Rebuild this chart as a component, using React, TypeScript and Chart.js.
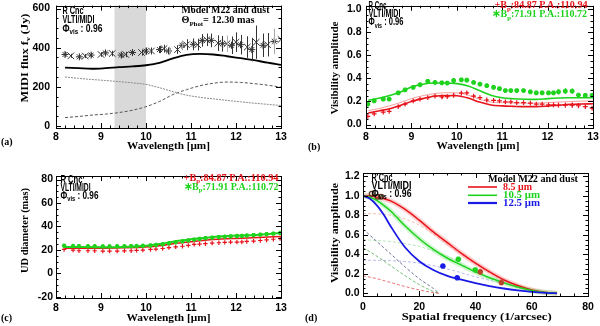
import React, { useEffect, useRef } from 'react';
import { Chart, registerables } from 'chart.js';
Chart.register(...registerables);

// ---------------- Panel (a): MIDI flux ----------------
const lamA = [8.2, 8.33, 8.52, 8.65, 8.78, 9.0, 9.1, 9.25, 9.45, 9.55, 9.7, 9.9, 10.0, 10.12, 10.3, 10.4, 10.5, 10.7, 10.8, 10.9, 11.05, 11.15, 11.25, 11.35, 11.45, 11.6, 11.7, 11.8, 11.9, 12.0, 12.1, 12.25, 12.35, 12.45, 12.6, 12.7, 12.85, 13.0];
const fluxA = [365, 358, 353, 357, 362, 365, 373, 370, 362, 365, 375, 375, 382, 383, 390, 395, 383, 390, 412, 415, 417, 415, 437, 440, 437, 423, 420, 420, 412, 428, 415, 403, 390, 428, 412, 415, 432, 442];
const fluxErrA = [12, 10, 10, 10, 12, 12, 14, 14, 14, 14, 14, 16, 18, 18, 18, 20, 22, 22, 25, 28, 30, 30, 32, 32, 35, 40, 40, 42, 45, 50, 50, 55, 60, 85, 60, 60, 65, 70];
const fluxErrGrayA = [0, 0, 0, 0, 0, 0, 0, 0, 0, 0, 0, 0, 0, 0, 0, 0, 1, 0, 1, 0, 0, 0, 0, 0, 0, 0, 0, 1, 0, 0, 0, 0, 0, 0, 0, 0, 1, 0];
const lamModelA = [8.2, 8.5, 8.8, 9.1, 9.4, 9.7, 10.0, 10.3, 10.6, 10.9, 11.2, 11.5, 11.8, 12.1, 12.4, 12.7, 13.0];
const modelTotalA = [298, 295, 292, 295, 300, 304, 310, 322, 345, 363, 368, 365, 356, 346, 336, 323, 312];
const modelStarA = [250, 243, 237, 232, 226, 220, 212, 195, 175, 157, 146, 138, 130, 123, 116, 110, 104];
const modelDustA = [42, 48, 55, 60, 68, 80, 98, 125, 160, 185, 205, 218, 224, 222, 216, 208, 198];
const shadeA = [9.3, 10.0];
const xTicksA = [8, 9, 10, 11, 12, 13];
const yTicksA = [0, 200, 400, 600];

// ---------------- Panel (b): visibilities vs wavelength ----------------
const lamB = [8.04, 8.18, 8.38, 8.51, 8.71, 8.86, 9.04, 9.19, 9.36, 9.52, 9.67, 9.79, 9.93, 10.1, 10.22, 10.37, 10.51, 10.66, 10.81, 10.94, 11.07, 11.19, 11.32, 11.47, 11.62, 11.75, 11.88, 12.02, 12.13, 12.24, 12.39, 12.54, 12.68, 12.83, 12.98];
const visGreenB = [0.177, 0.205, 0.22, 0.22, 0.275, 0.30, 0.323, 0.345, 0.374, 0.365, 0.362, 0.36, 0.382, 0.388, 0.385, 0.365, 0.35, 0.337, 0.323, 0.312, 0.295, 0.295, 0.295, 0.295, 0.284, 0.275, 0.275, 0.275, 0.275, 0.284, 0.29, 0.29, 0.256, 0.253, 0.253];
const visGreenErrB = [0.006, 0.006, 0.006, 0.006, 0.006, 0.006, 0.006, 0.006, 0.006, 0.02, 0.006, 0.006, 0.02, 0.015, 0.006, 0.006, 0.006, 0.006, 0.006, 0.006, 0.006, 0.006, 0.006, 0.006, 0.006, 0.006, 0.006, 0.006, 0.006, 0.022, 0.025, 0.022, 0.006, 0.006, 0.006];
const visRedB = [0.07, 0.093, 0.107, 0.115, 0.155, 0.177, 0.205, 0.22, 0.233, 0.247, 0.24, 0.242, 0.253, 0.272, 0.275, 0.247, 0.233, 0.213, 0.21, 0.205, 0.197, 0.197, 0.19, 0.19, 0.185, 0.177, 0.177, 0.171, 0.171, 0.169, 0.169, 0.169, 0.163, 0.155, 0.143];
const visRedErrB = [0.005, 0.005, 0.005, 0.005, 0.005, 0.005, 0.005, 0.005, 0.005, 0.005, 0.015, 0.005, 0.005, 0.018, 0.005, 0.005, 0.005, 0.005, 0.005, 0.005, 0.005, 0.005, 0.005, 0.005, 0.005, 0.005, 0.005, 0.005, 0.005, 0.02, 0.02, 0.022, 0.018, 0.015, 0.005];
const lamModelB = [8.05, 8.3, 8.5, 8.75, 9.0, 9.25, 9.5, 9.75, 10.0, 10.25, 10.5, 10.75, 11.0, 11.25, 11.5, 11.75, 12.0, 12.25, 12.5, 12.75, 13.0];
const modelGreenB = [0.21, 0.23, 0.25, 0.28, 0.325, 0.35, 0.36, 0.36, 0.355, 0.335, 0.295, 0.255, 0.232, 0.224, 0.22, 0.218, 0.225, 0.23, 0.232, 0.233, 0.233];
const modelRedB = [0.1, 0.12, 0.135, 0.165, 0.2, 0.225, 0.245, 0.252, 0.25, 0.23, 0.195, 0.17, 0.162, 0.158, 0.155, 0.155, 0.16, 0.168, 0.175, 0.178, 0.18];
const modelRedUpperB = [0.12, 0.14, 0.16, 0.19, 0.225, 0.25, 0.268, 0.276, 0.275, 0.255, 0.22, 0.195, 0.19, 0.187, 0.185, 0.186, 0.19, 0.195, 0.2, 0.203, 0.205];
const xTicksB = [8, 9, 10, 11, 12, 13];
const yTicksB = [0, 0.2, 0.4, 0.6, 0.8, 1.0];
const yTickLabelsB = ['0.0', '0.2', '0.4', '0.6', '0.8', '1.0'];

// ---------------- Panel (c): UD diameter ----------------
const lamC = [8.18, 8.38, 8.51, 8.71, 8.86, 9.04, 9.19, 9.36, 9.52, 9.67, 9.79, 9.93, 10.1, 10.22, 10.37, 10.51, 10.66, 10.81, 10.94, 11.07, 11.19, 11.32, 11.47, 11.62, 11.75, 11.88, 12.02, 12.13, 12.24, 12.39, 12.54, 12.68, 12.83, 12.98];
const udRedC = [20.4, 19.8, 19.3, 19.3, 19.3, 19.0, 19.0, 19.0, 19.2, 19.3, 19.6, 19.8, 20.4, 20.7, 21.2, 22.0, 22.6, 23.1, 23.9, 24.7, 25.0, 25.3, 25.8, 26.1, 26.4, 26.6, 26.6, 26.8, 27.2, 27.5, 28.0, 28.5, 29.1, 29.6];
const udGreenC = [23.6, 23.3, 23.2, 23.1, 23.1, 23.0, 23.0, 23.1, 23.1, 23.2, 23.3, 23.5, 23.8, 24.2, 24.8, 25.6, 26.5, 27.3, 28.1, 28.8, 29.4, 30.0, 30.5, 30.9, 31.2, 31.5, 31.8, 32.0, 32.3, 32.6, 33.0, 33.4, 33.9, 34.4];
const lamModelC = [8.2, 8.5, 9.0, 9.5, 10.0, 10.3, 10.6, 11.0, 11.5, 12.0, 12.5, 13.0];
const modelGreenC = [22.5, 22.4, 22.3, 22.5, 23.5, 25.0, 27.0, 29.0, 31.0, 32.2, 33.0, 34.5];
const modelRedC = [21.5, 21.5, 21.5, 21.8, 22.5, 23.5, 25.3, 27.0, 28.8, 29.8, 30.5, 31.5];
const xTicksC = [8, 9, 10, 11, 12, 13];
const yTicksC = [-20, 0, 20, 40, 60, 80];

// ---------------- Panel (d): visibility vs spatial frequency ----------------
const freqD = [0, 2.5, 5, 7.5, 10, 15, 20, 25, 30, 35, 40, 45, 50, 55, 60, 65, 69];
const vis85D = [1.0, 0.998, 0.985, 0.97, 0.945, 0.86, 0.75, 0.63, 0.52, 0.41, 0.31, 0.22, 0.14, 0.08, 0.035, 0.01, 0.0];
const vis105D = [1.0, 0.985, 0.95, 0.9, 0.84, 0.69, 0.56, 0.45, 0.36, 0.29, 0.22, 0.16, 0.11, 0.065, 0.03, 0.01, 0.0];
const vis125D = [1.0, 0.97, 0.9, 0.8, 0.68, 0.47, 0.33, 0.24, 0.18, 0.14, 0.105, 0.075, 0.05, 0.03, 0.015, 0.005, 0.0];
const freqSteepD = [0, 5, 10, 15, 20, 25, 27];
const steep85D = [0.18, 0.15, 0.11, 0.07, 0.035, 0.008, 0.0];
const steep105D = [0.47, 0.38, 0.28, 0.18, 0.09, 0.02, 0.0];
const steep125D = [0.66, 0.53, 0.4, 0.27, 0.15, 0.05, 0.0];
const freqShallowD = [0, 10, 20, 30, 40, 50, 60, 68];
const shallow85D = [0.82, 0.8, 0.7, 0.5, 0.3, 0.13, 0.03, 0.0];
const shallow105D = [0.55, 0.53, 0.48, 0.38, 0.22, 0.1, 0.03, 0.0];
const shallow125D = [0.34, 0.335, 0.31, 0.25, 0.17, 0.1, 0.04, 0.0];
const ptsNearFreqD = [3.1, 5.2, 6.4];
const ptsNearVisD = [1.02, 0.99, 0.99];
const pts85FreqD = [41.7, 49.2];
const pts85VisD = [0.22, 0.11];
const pts105FreqD = [33.9, 39.9];
const pts105VisD = [0.35, 0.24];
const pts125FreqD = [28.4, 33.5];
const pts125VisD = [0.28, 0.16];
const xTicksD = [0, 20, 40, 60, 80];
const yTicksD = [0, 0.2, 0.4, 0.6, 0.8, 1.0, 1.2];
const yTickLabelsD = ['0.0', '0.2', '0.4', '0.6', '0.8', '1.0', '1.2'];

// ---------------- styling helpers ----------------
const RED = '#e8141c';
const GREEN = '#1ed21e';
const BLUE = '#1a1ae6';
const SANS = '"Liberation Sans", Arial, Helvetica, sans-serif';
const SERIF = '"Liberation Serif", "Times New Roman", serif';

type Seg = [string, number];
interface TextItem {
  x: number; y: number; segs: Seg[]; color?: string; size?: number; w?: number;
  align?: 'left' | 'right' | 'center'; rot?: boolean; sans?: boolean;
}
const T = (s: string): Seg => [s, 0];
const S = (s: string): Seg => [s, 1];

function drawRich(ctx: CanvasRenderingContext2D, it: TextItem) {
  const size = it.size ?? 10;
  const fam = it.sans ? SANS : SERIF;
  const fN = `bold ${size}px ${fam}`;
  const fS = `bold ${Math.round(size * 0.7)}px ${fam}`;
  let total = 0;
  const widths = it.segs.map(([t, s]) => {
    ctx.font = s ? fS : fN;
    const w = ctx.measureText(t).width;
    total += w;
    return w;
  });
  const sx = it.w ? it.w / total : 1;
  ctx.save();
  ctx.translate(it.x, it.y);
  if (it.rot) ctx.rotate(-Math.PI / 2);
  ctx.scale(sx, 1);
  ctx.fillStyle = it.color ?? '#000';
  ctx.textBaseline = 'middle';
  ctx.textAlign = 'left';
  let cx = it.align === 'right' ? -total : it.align === 'center' ? -total / 2 : 0;
  it.segs.forEach(([t, s], i) => {
    ctx.font = s ? fS : fN;
    ctx.fillText(t, cx, s ? size * 0.32 : 0);
    cx += widths[i];
  });
  ctx.restore();
}

const pts = (xs: number[], ys: number[]) => xs.map((x, i) => ({ x, y: ys[i] }));

function lineDs(xs: number[], ys: number[], color: string, width: number, dash: number[] = [], extra: any = {}) {
  return {
    data: pts(xs, ys), borderColor: color, borderWidth: width, borderDash: dash,
    pointRadius: 0, fill: false, cubicInterpolationMode: 'monotone', ...extra,
  };
}
function markDs(xs: number[], ys: number[], color: string, style: any, radius: any, bw: number, extra: any = {}) {
  return {
    data: pts(xs, ys), showLine: false, borderColor: color, backgroundColor: color,
    pointStyle: style, pointRadius: radius, pointBorderWidth: bw, pointBorderColor: color,
    pointBackgroundColor: color, ...extra,
  };
}

interface PanelCfg {
  xTicks: number[]; xLabels: string[]; yTicks: number[]; yLabels: string[];
  xMinor: number; yMinor: number; xLabOff: number; yLabGap: number;
  texts: TextItem[]; band?: number[]; legendLines?: { x1: number; x2: number; y: number; color: string; w: number }[];
}

function idlPlugin(cfg: PanelCfg) {
  return {
    id: 'idlFrame',
    beforeDatasetsDraw(chart: any) {
      if (!cfg.band) return;
      const { top, bottom } = chart.chartArea;
      const xs = chart.scales.x;
      const x1 = xs.getPixelForValue(cfg.band[0]);
      const x2 = xs.getPixelForValue(cfg.band[1]);
      chart.ctx.save();
      chart.ctx.fillStyle = '#d9d9d9';
      chart.ctx.fillRect(x1, top, x2 - x1, bottom - top);
      chart.ctx.restore();
    },
    afterDatasetsDraw(chart: any) {
      const ctx: CanvasRenderingContext2D = chart.ctx;
      const ys = chart.scales.y;
      const ca = chart.chartArea;
      ctx.save();
      ctx.beginPath();
      ctx.rect(ca.left, ca.top, ca.right - ca.left, ca.bottom - ca.top);
      ctx.clip();
      chart.data.datasets.forEach((ds: any, i: number) => {
        if (!ds.errors) return;
        const meta = chart.getDatasetMeta(i);
        meta.data.forEach((el: any, j: number) => {
          const v = ds.data[j].y;
          const e = ds.errors[j];
          ctx.strokeStyle = ds.errColors ? ds.errColors[j] : ds.borderColor;
          ctx.lineWidth = ds.errWidth ?? 1;
          ctx.beginPath();
          const px = Math.round(el.x) + 0.5;
          ctx.moveTo(px, ys.getPixelForValue(v + e));
          ctx.lineTo(px, ys.getPixelForValue(v - e));
          ctx.stroke();
        });
      });
      ctx.restore();
    },
    afterDraw(chart: any) {
      const ctx: CanvasRenderingContext2D = chart.ctx;
      const xs = chart.scales.x;
      const ys = chart.scales.y;
      const { left, right, top, bottom } = chart.chartArea;
      ctx.save();
      ctx.strokeStyle = '#000';
      ctx.lineWidth = 1;
      ctx.strokeRect(Math.round(left) + 0.5, Math.round(top) + 0.5, Math.round(right - left), Math.round(bottom - top));
      const tick = (x1: number, y1: number, x2: number, y2: number) => {
        ctx.beginPath(); ctx.moveTo(x1, y1); ctx.lineTo(x2, y2); ctx.stroke();
      };
      const xMin = xs.min, xMax = xs.max, yMin = ys.min, yMax = ys.max;
      for (let v = Math.ceil(xMin / cfg.xMinor - 1e-6) * cfg.xMinor; v <= xMax + 1e-6; v += cfg.xMinor) {
        const major = cfg.xTicks.some((t) => Math.abs(t - v) < 1e-6);
        const L = major ? 5 : 2.5;
        const px = Math.round(xs.getPixelForValue(v)) + 0.5;
        tick(px, bottom, px, bottom - L);
        tick(px, top, px, top + L);
      }
      for (let v = Math.ceil(yMin / cfg.yMinor - 1e-6) * cfg.yMinor; v <= yMax + 1e-6; v += cfg.yMinor) {
        const major = cfg.yTicks.some((t) => Math.abs(t - v) < 1e-6);
        const L = major ? 5 : 2.5;
        const py = Math.round(ys.getPixelForValue(v)) + 0.5;
        tick(left, py, left + L, py);
        tick(right, py, right - L, py);
      }
      cfg.xTicks.forEach((v, i) => {
        drawRich(ctx, { x: xs.getPixelForValue(v), y: bottom + cfg.xLabOff, segs: [T(cfg.xLabels[i])], align: 'center', sans: true, size: 10.5 });
      });
      cfg.yTicks.forEach((v, i) => {
        drawRich(ctx, { x: left - cfg.yLabGap, y: ys.getPixelForValue(v), segs: [T(cfg.yLabels[i])], align: 'right', sans: true, size: 10.5 });
      });
      (cfg.legendLines ?? []).forEach((l) => {
        ctx.strokeStyle = l.color; ctx.lineWidth = l.w;
        tick(l.x1, l.y, l.x2, l.y);
      });
      cfg.texts.forEach((t) => drawRich(ctx, t));
      ctx.restore();
    },
  };
}

function baseOptions(pad: any, xr: number[], yr: number[]) {
  return {
    responsive: false, animation: false, devicePixelRatio: 1, events: [],
    layout: { padding: pad },
    plugins: { legend: { display: false }, tooltip: { enabled: false }, title: { display: false } },
    scales: {
      x: { type: 'linear', min: xr[0], max: xr[1], display: false },
      y: { type: 'linear', min: yr[0], max: yr[1], display: false },
    },
  };
}

const rcnc = (x: number, y0: number, dy: number, w: number[], size: number): TextItem[] => [
  { x, y: y0, segs: [T('R Cnc')], w: w[0], size, sans: true },
  { x, y: y0 + dy, segs: [T('VLTI/MIDI')], w: w[1], size, sans: true },
  { x, y: y0 + 2 * dy, segs: [T('Φ'), S('vis'), T(' : 0.96')], w: w[2], size, sans: true },
];

function buildA() {
  const cfg: PanelCfg = {
    xTicks: xTicksA, xLabels: xTicksA.map(String), yTicks: yTicksA, yLabels: yTicksA.map(String),
    xMinor: 0.2, yMinor: 50, xLabOff: 9, yLabGap: 6, band: shadeA,
    texts: [
      ...rcnc(62.5, 10.5, 9, [21, 32, 40], 11),
      { x: 181.5, y: 10.5, segs: [T('Model M22 and dust')], w: 88, size: 10.5 },
      { x: 181.5, y: 20.5, segs: [T('Θ'), S('Phot'), T('= 12.30 mas')], w: 73, size: 10.5 },
      { x: 168.5, y: 146, segs: [T('Wavelength [μm]')], w: 83, size: 10.5, align: 'center' },
      { x: 25, y: 58, segs: [T('MIDI flux f'), S('ν'), T(' (Jy)')], w: 89, size: 10.5, align: 'center', rot: true },
      { x: 1, y: 142.5, segs: [T('(a)')], size: 10 },
    ],
  };
  return {
    type: 'line',
    data: {
      datasets: [
        markDs(lamA, fluxA, '#333', lamA.map((_, i) => (i % 2 ? 'crossRot' : 'star')), lamA.map((_, i) => (i % 2 ? 4.6 : 3.5)), 1,
          { errors: fluxErrA, errColors: fluxErrGrayA.map((g) => (g ? '#aaaaaa' : '#333')) }),
        lineDs(lamModelA, modelTotalA, '#000', 1.8),
        lineDs(lamModelA, modelStarA, '#8a8a8a', 1, [2, 1]),
        lineDs(lamModelA, modelDustA, '#555', 1, [3, 2]),
      ],
    },
    options: baseOptions({ left: 56, top: 2, right: 19, bottom: 35 }, [8, 13], [-11, 615]),
    plugins: [idlPlugin(cfg)],
  };
}

function buildB() {
  const cfg: PanelCfg = {
    xTicks: xTicksB, xLabels: xTicksB.map(String), yTicks: yTicksB, yLabels: yTickLabelsB,
    xMinor: 0.2, yMinor: 0.05, xLabOff: 9.5, yLabGap: 4.5,
    texts: [
      ...rcnc(68.5, 6.5, 8, [18, 32, 35], 10),
      { x: 287.5, y: 5.5, segs: [T('+B'), S('p'), T(':84.87 P.A.:110.94')], w: 93, size: 10.5, align: 'right', color: RED },
      { x: 287, y: 14.5, segs: [T('∗B'), S('p'), T(':71.91 P.A.:110.72')], w: 95, size: 10.5, align: 'right', color: GREEN },
      { x: 178, y: 146.5, segs: [T('Wavelength [μm]')], w: 83, size: 10.5, align: 'center' },
      { x: 35, y: 68, segs: [T('Visibility amplitude')], w: 93, size: 10.5, align: 'center', rot: true },
      { x: 8, y: 147, segs: [T('(b)')], size: 10 },
    ],
  };
  return {
    type: 'line',
    data: {
      datasets: [
        markDs(lamB, visGreenB, GREEN, 'star', 2.4, 1.8, { errors: visGreenErrB }),
        markDs(lamB, visRedB, RED, 'cross', 2.4, 1.2, { errors: visRedErrB }),
        lineDs(lamModelB, modelGreenB, GREEN, 1.6),
        lineDs(lamModelB, modelRedB, RED, 1.6),
        lineDs(lamModelB, modelRedUpperB, '#f4a0a0', 1),
      ],
    },
    options: baseOptions({ left: 66, top: 2, right: 7, bottom: 35 }, [8, 13], [-0.03, 1.03]),
    plugins: [idlPlugin(cfg)],
  };
}

function buildC() {
  const cfg: PanelCfg = {
    xTicks: xTicksC, xLabels: xTicksC.map(String), yTicks: yTicksC, yLabels: yTicksC.map(String),
    xMinor: 0.2, yMinor: 5, xLabOff: 10.5, yLabGap: 3,
    texts: [
      ...rcnc(60.5, 17, 8, [22, 30, 38], 10),
      { x: 278.5, y: 15, segs: [T('+B'), S('p'), T(':84.87 P.A.:110.94')], w: 95, size: 10.5, align: 'right', color: RED },
      { x: 278.5, y: 24, segs: [T('∗B'), S('p'), T(':71.91 P.A.:110.72')], w: 95, size: 10.5, align: 'right', color: GREEN },
      { x: 168.5, y: 155, segs: [T('Wavelength [μm]')], w: 84, size: 10.5, align: 'center' },
      { x: 25, y: 67.5, segs: [T('UD diameter (mas)')], w: 85, size: 10.5, align: 'center', rot: true },
      { x: 1, y: 155, segs: [T('(c)')], size: 10 },
    ],
  };
  return {
    type: 'line',
    data: {
      datasets: [
        markDs(lamC, udGreenC, GREEN, 'star', 2.2, 1.5),
        lineDs(lamModelC, modelGreenC, GREEN, 2),
        markDs(lamC, udRedC, RED, 'cross', 2.2, 1.2),
        lineDs(lamModelC, modelRedC, RED, 1.5),
      ],
    },
    options: baseOptions({ left: 56, top: 13, right: 19, bottom: 28 }, [8, 13], [-21, 83]),
    plugins: [idlPlugin(cfg)],
  };
}

function buildD() {
  const cfg: PanelCfg = {
    xTicks: xTicksD, xLabels: xTicksD.map(String), yTicks: yTicksD, yLabels: yTickLabelsD,
    xMinor: 5, yMinor: 0.05, xLabOff: 11.5, yLabGap: 3.5,
    legendLines: [
      { x1: 168, x2: 197, y: 24, color: RED, w: 1.6 },
      { x1: 168, x2: 197, y: 32.3, color: GREEN, w: 1.6 },
      { x1: 168, x2: 197, y: 40, color: BLUE, w: 2.2 },
    ],
    texts: [
      ...rcnc(71.5, 15, 8, [21, 40, 40], 10.5),
      { x: 188, y: 16, segs: [T('Model M22 and dust')], w: 90, size: 10.5 },
      { x: 203, y: 24, segs: [T('8.5 μm')], w: 29, size: 10.5, color: RED },
      { x: 203, y: 32.3, segs: [T('10.5 μm')], w: 37, size: 10.5, color: GREEN },
      { x: 203, y: 40, segs: [T('12.5 μm')], w: 37, size: 10.5, color: BLUE },
      { x: 176.7, y: 154, segs: [T('Spatial frequency (1/arcsec)')], w: 150, size: 10.5, align: 'center' },
      { x: 35, y: 70, segs: [T('Visibility amplitude')], w: 100, size: 10.5, align: 'center', rot: true },
      { x: 5, y: 155, segs: [T('(d)')], size: 10 },
    ],
  };
  return {
    type: 'line',
    data: {
      datasets: [
        markDs(ptsNearFreqD, ptsNearVisD, '#5b3b1b', 'circle', 2.4, 1.3, { pointBackgroundColor: 'rgba(0,0,0,0)' }),
        markDs(pts125FreqD, pts125VisD, BLUE, 'star', 2.8, 1.8),
        markDs(pts105FreqD, pts105VisD, GREEN, 'star', 2.8, 1.8),
        markDs(pts85FreqD, pts85VisD, '#b8452a', 'star', 2.8, 1.8),
        lineDs(freqD, vis125D, BLUE, 1.8),
        lineDs(freqD, vis105D, GREEN, 1.5),
        lineDs(freqD, vis85D, RED, 1.5),
        lineDs(freqD, vis105D, 'rgba(120,230,120,0.35)', 5),
        lineDs(freqD, vis85D, 'rgba(255,120,120,0.35)', 5),
        lineDs(freqSteepD, steep85D, '#e05050', 0.8, [3, 2]),
        lineDs(freqSteepD, steep105D, '#50b050', 0.8, [3, 2]),
        lineDs(freqSteepD, steep125D, '#505080', 0.8, [3, 2]),
        lineDs(freqShallowD, shallow85D, '#f0b0a0', 0.8, [3, 2]),
        lineDs(freqShallowD, shallow105D, '#a8e0a8', 0.8, [3, 2]),
        lineDs(freqShallowD, shallow125D, '#a8a8e8', 0.8, [3, 2]),
      ],
    },
    options: baseOptions({ left: 63, top: 10, right: 12, bottom: 30 }, [0, 80], [-0.027, 1.234]),
    plugins: [idlPlugin(cfg)],
  };
}

function Panel({ build, left, top }: { build: () => any; left: number; top: number }) {
  const ref = useRef<HTMLCanvasElement>(null);
  useEffect(() => {
    const chart = new Chart(ref.current as HTMLCanvasElement, build());
    return () => chart.destroy();
  }, []);
  return (
    <canvas ref={ref} width={300} height={163}
      style={{ position: 'absolute', left, top, width: 300, height: 163, display: 'block' }} />
  );
}

export default function App() {
  return (
    <div style={{ position: 'absolute', left: 0, top: 0, width: 600, height: 326, background: '#fff', overflow: 'hidden' }}>
      <Panel build={buildA} left={0} top={0} />
      <Panel build={buildB} left={300} top={0} />
      <Panel build={buildC} left={0} top={163} />
      <Panel build={buildD} left={300} top={163} />
    </div>
  );
}
